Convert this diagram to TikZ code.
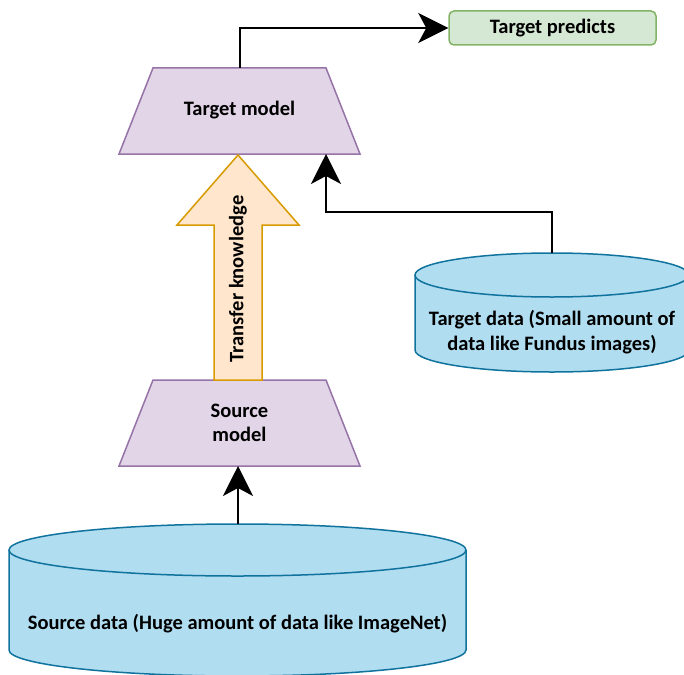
\documentclass[tikz,border=0pt]{standalone}
\usepackage{fontspec}
\setmainfont{Carlito}
\usetikzlibrary{arrows.meta}

\definecolor{modelfill}{HTML}{E1D5E7}
\definecolor{modeldraw}{HTML}{9673A6}
\definecolor{predfill}{HTML}{D5E8D4}
\definecolor{preddraw}{HTML}{82B366}
\definecolor{xferfill}{HTML}{FFE6CC}
\definecolor{xferdraw}{HTML}{D79B00}
\definecolor{datafill}{HTML}{B1DDF0}
\definecolor{datadraw}{HTML}{10739E}

\tikzset{
  lbl/.style={font=\fontsize{20.5}{24.5}\selectfont\bfseries, align=center, inner sep=0pt},
  modelshape/.style={fill=modelfill, draw=modeldraw, line width=1.5pt, line join=miter},
  datashape/.style={fill=datafill, draw=datadraw, line width=1.5pt},
  flow/.style={draw=black, line width=1.6pt,
    -{Stealth[length=30pt, width=30pt, inset=8pt]}},
}

\begin{document}
\begin{tikzpicture}[x=1pt, y=-1pt]
  \useasboundingbox (0,0) rectangle (684,674);
  \clip (0,0) rectangle (684,674);

  % target predictions box
  \node[lbl, fill=predfill, draw=preddraw, line width=1.5pt, rounded corners=5pt,
        minimum width=207pt, minimum height=34pt] (pred) at (552.5,28) {Target predicts};

  % target model (trapezoid)
  \draw[modelshape] (119,154) -- (153,68) -- (326,68) -- (360,154) -- cycle;
  \node[lbl] (tmodel) at (239.5,110) {Target model};
  \coordinate (tmodeltop) at (240,68);
  \coordinate (tmodelin) at (326,154);

  % source model (trapezoid)
  \draw[modelshape] (119,466) -- (153,380) -- (326,380) -- (360,466) -- cycle;
  \node[lbl] (smodel) at (239.5,423) {Source\\model};
  \coordinate (smodelin) at (238,466);

  % knowledge transfer block arrow
  \draw[fill=xferfill, draw=xferdraw, line width=1.5pt, line join=miter]
    (214,380) -- (214,225) -- (177,225) -- (238,155) -- (299,225)
    -- (262,225) -- (262,380) -- cycle;
  \node[lbl, rotate=90] (xfer) at (238,279) {Transfer knowledge};

  % target data (cylinder); y axis points down, so the lower arc runs through 90 degrees
  \draw[datashape] (415,275) -- (415,350)
    arc[start angle=180, end angle=0, x radius=137, y radius=22]
    -- (689,275);
  \draw[datashape] (552,275) ellipse[x radius=137, y radius=22];
  \node[lbl] (tdata) at (552,332) {Target data (Small amount of\\data like Fundus images)};
  \coordinate (tdatatop) at (552,253);

  % source data (cylinder)
  \draw[datashape] (9,550) -- (9,650)
    arc[start angle=180, end angle=0, x radius=228.5, y radius=26]
    -- (466,550);
  \draw[datashape] (237.5,550) ellipse[x radius=228.5, y radius=26];
  \node[lbl] (sdata) at (237.5,624) {Source data (Huge amount of data like ImageNet)};
  \coordinate (sdatatop) at (238,524);

  % connectors
  \draw[flow] (tmodeltop) |- (pred.west);
  \draw[flow] (tdatatop) -- ++(0,-41) -| (tmodelin);
  \draw[flow] (sdatatop) -- (smodelin);
\end{tikzpicture}
\end{document}
